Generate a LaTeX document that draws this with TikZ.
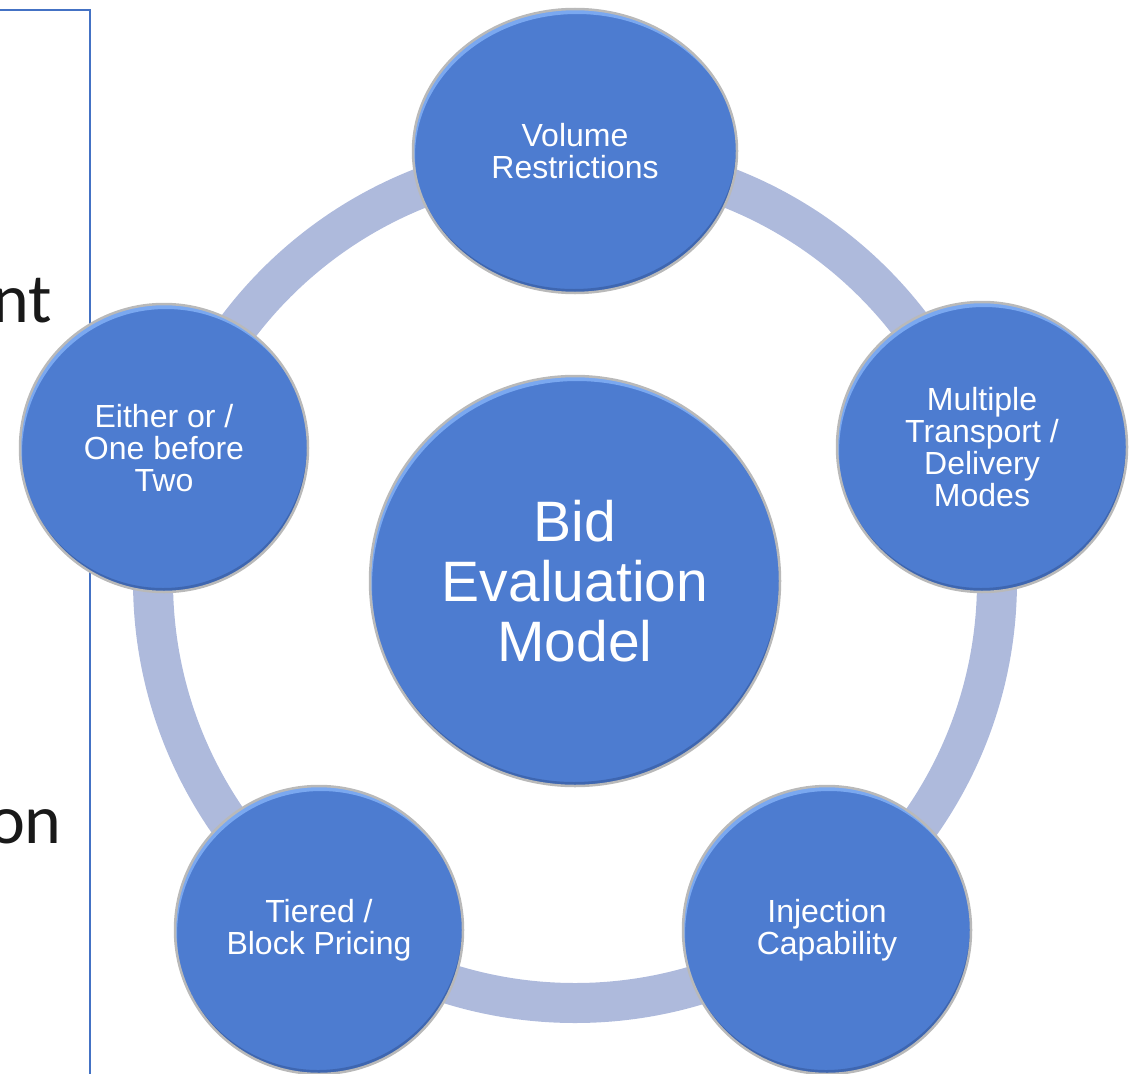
\documentclass[tikz,border=0pt]{standalone}
\usepackage{fontspec}
\usetikzlibrary{shapes.geometric}
\setmainfont{Liberation Sans}
\newfontfamily\slidefont{Carlito}
\definecolor{bubbleblue}{RGB}{77,124,208}
\definecolor{bubblehi}{RGB}{122,168,240}
\definecolor{bubblelo}{RGB}{62,102,176}
\definecolor{ringblue}{RGB}{174,186,220}
\definecolor{frameblue}{RGB}{68,114,196}
\definecolor{slideink}{RGB}{25,25,25}
\tikzset{
  bubble/.style={ellipse, fill=bubbleblue, inner sep=0, text=white, align=center,
    font=\fontsize{32}{32}\selectfont},
  ring/.style={ringblue, line width=40},
  slideframe/.style={frameblue, line width=1.5},
  cutoff/.style={text=slideink, font=\slidefont\fontsize{70}{70}\selectfont,
    anchor=base east, inner sep=0},
}
% light upper rim, dark lower rim and grey edge round a bubble: node, x radius, y radius
\newcommand{\bubblerim}[3]{%
  \begin{scope}
    \clip (#1.center) ellipse (#2 and #3);
    \fill[bubblehi, even odd rule] (#1.center) ellipse (#2 and #3)
      ([shift={(2,5)}]#1.center) ellipse (#2 and #3);
    \fill[bubblelo, even odd rule] (#1.center) ellipse (#2 and #3)
      ([shift={(-1,-4)}]#1.center) ellipse (#2 and #3);
  \end{scope}
  \draw[gray!55, line width=2.5] (#1.center) ellipse (#2 and #3);
}
\begin{document}
\begin{tikzpicture}[x=1pt,y=-1pt]
  \useasboundingbox (0,0) rectangle (1134,1073);

  % slide frame and cut-off words
  \draw[slideframe] (-2,10) -- (90,10) -- (90,1076);
  \node[cutoff] (ntfrag) at (52,322) {nt};
  \node[cutoff] (onfrag) at (62,843) {on};

  % ring
  \coordinate (hub) at (575,581);
  \draw[ring] (hub) circle (422pt);

  % outer bubbles
  \node[bubble, minimum width=324, minimum height=284] (vol) at (575,151) {Volume\\Restrictions};
  \bubblerim{vol}{162pt}{142pt}
  \node[bubble, minimum size=290] (modes) at (982,447) {Multiple\\Transport /\\Delivery\\Modes};
  \bubblerim{modes}{145pt}{145pt}
  \node[bubble, minimum size=288] (inj) at (827,930) {Injection\\Capability};
  \bubblerim{inj}{144pt}{144pt}
  \node[bubble, minimum size=288] (tier) at (319,930) {Tiered /\\Block Pricing};
  \bubblerim{tier}{144pt}{144pt}
  \node[bubble, minimum size=288] (either) at (164,448) {Either or /\\One before\\Two};
  \bubblerim{either}{144pt}{144pt}

  % centre
  \node[bubble, minimum size=410, font=\fontsize{57}{60}\selectfont] (bem) at (hub) {Bid\\Evaluation\\Model};
  \bubblerim{bem}{205pt}{205pt}
\end{tikzpicture}
\end{document}
